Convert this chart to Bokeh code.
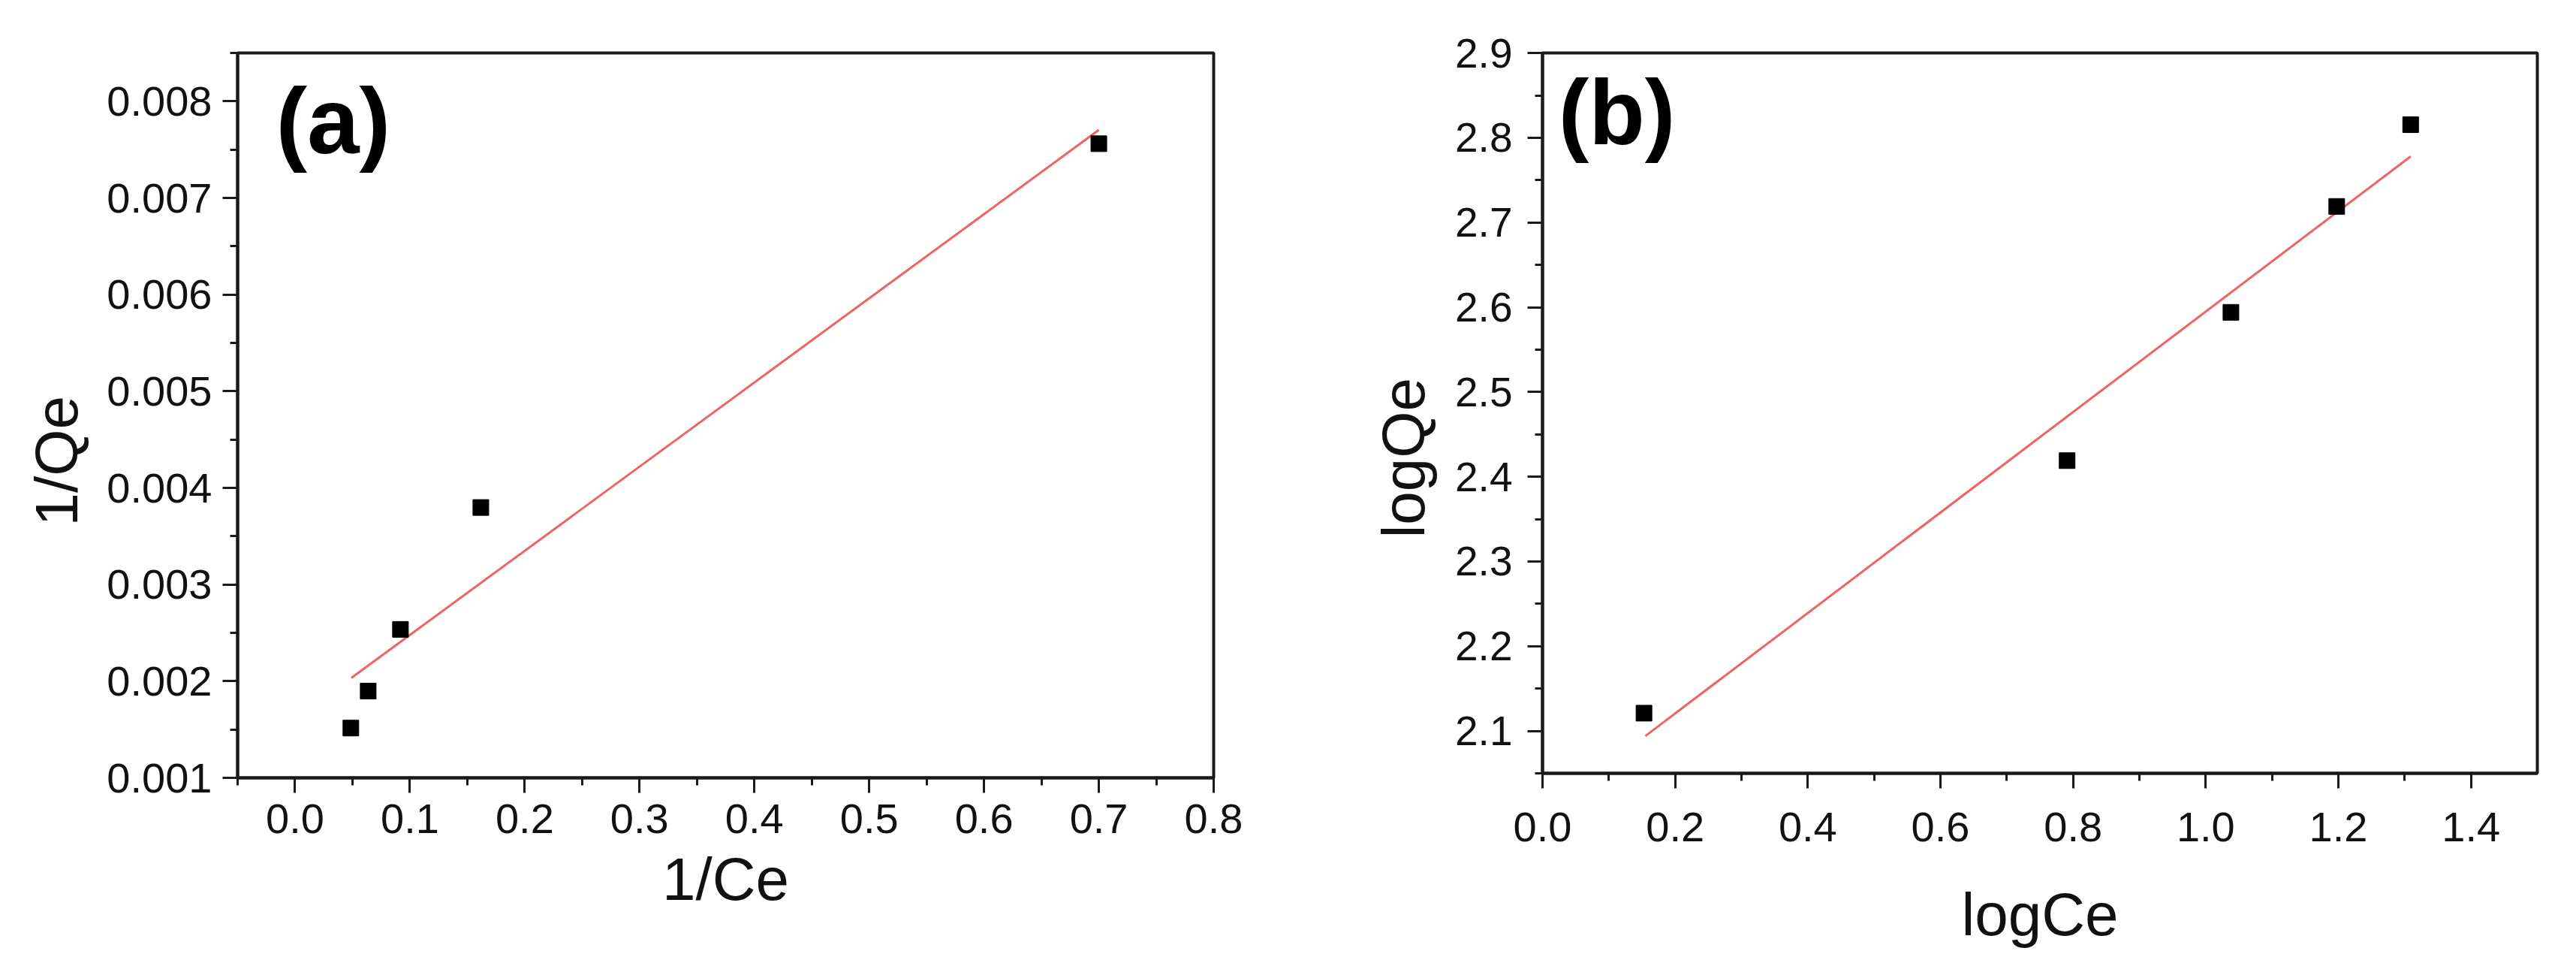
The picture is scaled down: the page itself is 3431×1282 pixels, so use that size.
from bokeh.plotting import figure
from bokeh.layouts import row
from bokeh.models import SingleIntervalTicker, PrintfTickFormatter, Label, Range1d, Title
from bokeh.embed import file_html
from bokeh.resources import INLINE

# ---- Panel (a): Langmuir, 1/Qe vs 1/Ce ----
a_x = [0.0486, 0.0637, 0.0918, 0.1618, 0.700]
a_y = [0.001515, 0.001898, 0.002536, 0.003797, 0.007561]
a_fit_x = [0.049, 0.700]
a_fit_y = [0.002034, 0.007703]

# ---- Panel (b): Freundlich, logQe vs logCe ----
b_x = [0.153, 0.791, 1.038, 1.1975, 1.309]
b_y = [2.121, 2.419, 2.594, 2.719, 2.8155]
b_fit_x = [0.155, 1.309]
b_fit_y = [2.094, 2.778]

FONT = "Liberation Sans"
AXC = "#1a1a1a"
RED = "#ec6464"


def style(p, xsize, ysize, xfmt, yfmt, xint, yint, xstand, ystand, xlab_stand):
    p.grid.visible = False
    p.outline_line_color = AXC
    p.outline_line_width = 4
    p.outline_line_alpha = 1
    p.background_fill_color = "white"
    p.border_fill_color = "white"
    p.xaxis.ticker = SingleIntervalTicker(interval=xint, num_minor_ticks=2)
    p.yaxis.ticker = SingleIntervalTicker(interval=yint, num_minor_ticks=2)
    p.xaxis.formatter = PrintfTickFormatter(format=xfmt)
    p.yaxis.formatter = PrintfTickFormatter(format=yfmt)
    for ax in (p.xaxis, p.yaxis):
        ax.axis_line_color = AXC
        ax.axis_line_width = 4
        ax.major_tick_line_color = AXC
        ax.major_tick_line_width = 3
        ax.minor_tick_line_color = AXC
        ax.minor_tick_line_width = 3
        ax.major_tick_out = 20
        ax.major_tick_in = 0
        ax.minor_tick_out = 10
        ax.minor_tick_in = 0
        ax.major_label_text_font = FONT
        ax.major_label_text_color = "#111111"
        ax.axis_label_text_font = FONT
        ax.axis_label_text_font_size = "80px"
        ax.axis_label_text_font_style = "normal"
        ax.axis_label_text_color = "#111111"
    p.xaxis.major_label_text_font_size = f"{xsize}px"
    p.yaxis.major_label_text_font_size = f"{ysize}px"
    p.xaxis.major_label_standoff = xstand
    p.yaxis.major_label_standoff = ystand
    p.xaxis.axis_label_standoff = xlab_stand


def ylabel(p, text, offset, standoff):
    p.add_layout(Title(text=text, align="left", offset=offset, standoff=standoff,
                       text_font=FONT, text_font_size="80px",
                       text_font_style="normal", text_color="#111111"), "left")


p1 = figure(frame_width=1300, frame_height=965,
            min_border_left=316, min_border_top=49,
            min_border_bottom=252, min_border_right=184,
            x_range=Range1d(-0.05, 0.8), y_range=Range1d(0.001, 0.0085),
            output_backend="svg", toolbar_location=None,
            x_axis_label="1/Ce")
style(p1, 56, 56, "%.1f", "%.3f", 0.1, 0.001, 15, 14, 14)
p1.line(a_fit_x, a_fit_y, line_color=RED, line_width=3)
p1.scatter(a_x, a_y, marker="square", size=21, color="black")
p1.add_layout(Label(x=-0.0167, y=0.0078, text="(a)", text_font=FONT,
                    text_font_size="125px", text_font_style="bold",
                    text_color="black", text_baseline="alphabetic"))
ylabel(p1, "1/Qe", 335, 40)

p2 = figure(frame_width=1325, frame_height=959,
            min_border_left=249, min_border_top=70,
            min_border_bottom=237, min_border_right=41,
            x_range=Range1d(0.0, 1.5), y_range=Range1d(2.05, 2.9001),
            output_backend="svg", toolbar_location=None,
            x_axis_label="logCe")
style(p2, 56, 55, "%.1f", "%.1f", 0.2, 0.1, 32, 20, 50)
p2.line(b_fit_x, b_fit_y, line_color=RED, line_width=3)
p2.scatter(b_x, b_y, marker="square", size=21, color="black")
p2.add_layout(Label(x=0.024, y=2.83, text="(b)", text_font=FONT,
                    text_font_size="122px", text_font_style="bold",
                    text_color="black", text_baseline="alphabetic"))
ylabel(p2, "logQe", 313, 44)

layout = row(p1, p2)
open("out.html", "w").write(file_html(layout, INLINE))
